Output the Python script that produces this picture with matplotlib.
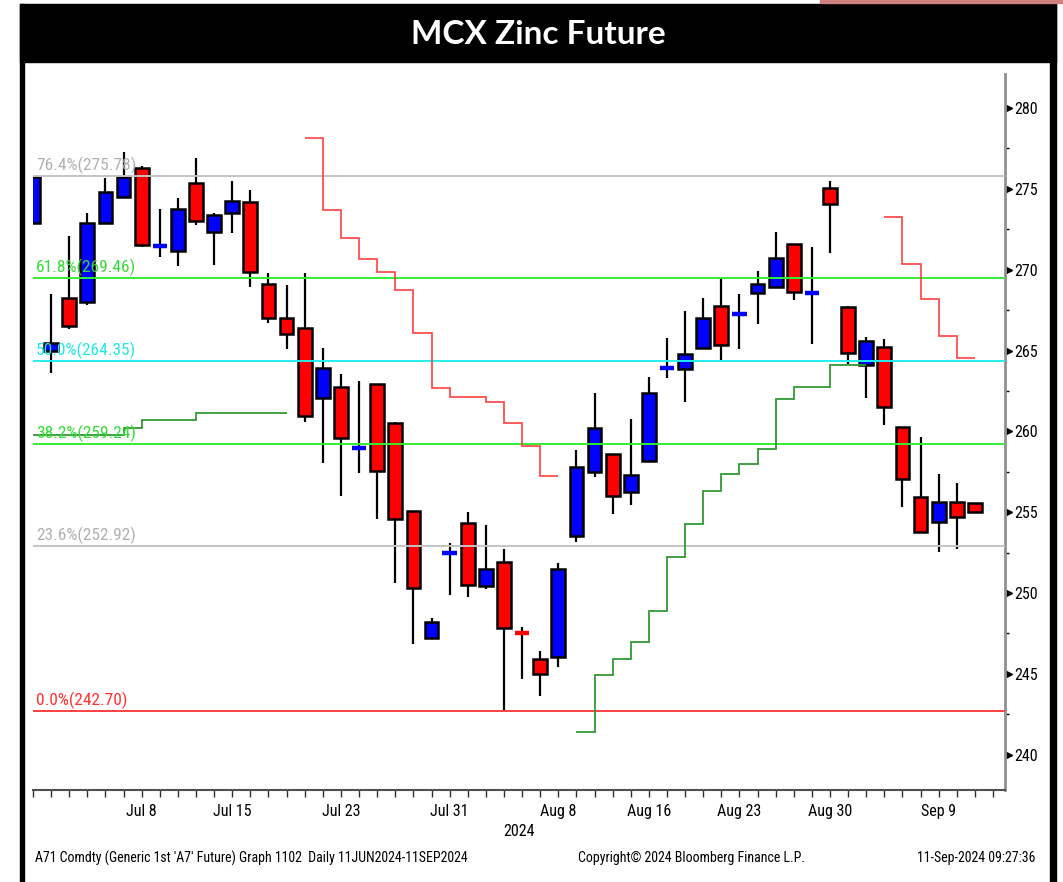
import numpy as np
import matplotlib
matplotlib.use('Agg')
import matplotlib.pyplot as plt
from matplotlib.patches import Rectangle
from matplotlib import font_manager
from matplotlib.ticker import MultipleLocator
from matplotlib.transforms import ScaledTranslation

# ---------------- data ----------------
opens  = [272.90, 265.00, 268.27, 268.02, 272.90, 274.52, 276.31, 271.40, 271.18, 275.38,
          272.35, 273.49, 274.20, 269.10, 266.99, 266.37, 262.05, 262.77, 258.88, 262.93,
          260.50, 255.08, 247.19, 252.45, 254.33, 250.46, 251.90, 247.55, 245.93, 246.03,
          253.53, 257.51, 258.58, 256.25, 258.17, 263.85, 263.84, 265.14, 267.78, 267.21,
          268.54, 268.95, 271.59, 268.53, 275.07, 267.72, 264.11, 265.24, 260.29, 255.93,
          254.39, 255.66, 255.55]
highs  = [275.75, 268.50, 272.08, 273.53, 275.69, 277.30, 276.40, 273.77, 274.46, 276.89,
          273.50, 275.49, 274.91, 269.82, 269.05, 269.82, 265.18, 263.55, 263.10, 262.95,
          260.60, 255.10, 248.44, 253.08, 255.04, 254.19, 252.75, 247.93, 246.44, 251.84,
          258.85, 262.36, 258.60, 260.75, 263.38, 265.76, 267.45, 268.23, 269.47, 268.48,
          269.92, 272.35, 271.60, 271.42, 275.50, 267.75, 265.82, 265.71, 260.30, 259.68,
          257.35, 256.79, 255.55]
lows   = [272.90, 263.60, 266.33, 267.84, 272.90, 274.52, 271.40, 270.77, 270.23, 272.76,
          270.30, 272.29, 268.91, 266.72, 265.10, 260.56, 258.03, 256.00, 257.45, 254.60,
          250.60, 246.83, 247.19, 249.86, 249.78, 250.27, 242.73, 244.67, 243.64, 245.45,
          253.18, 257.20, 254.89, 255.45, 258.10, 263.28, 261.80, 265.14, 264.42, 265.10,
          266.62, 268.95, 268.13, 265.40, 271.05, 264.17, 262.09, 260.40, 255.34, 253.70,
          252.52, 252.73, 255.04]
closes = [275.75, 265.45, 266.54, 272.89, 274.80, 275.75, 271.55, 271.55, 273.75, 273.00,
          273.36, 274.23, 269.88, 267.03, 266.02, 260.97, 263.90, 259.57, 259.00, 257.57,
          254.56, 250.30, 248.20, 252.55, 250.48, 251.49, 247.84, 247.45, 245.00, 251.49,
          257.82, 260.21, 256.00, 257.29, 262.40, 263.95, 264.77, 267.04, 265.35, 267.31,
          269.10, 270.70, 268.64, 268.63, 274.04, 264.87, 265.59, 261.53, 257.04, 253.80,
          255.66, 254.73, 255.04]

date_tick_idx = [6, 11, 17, 23, 29, 34, 39, 44, 50]
date_tick_lbl = ['Jul 8', 'Jul 15', 'Jul 23', 'Jul 31', 'Aug 8', 'Aug 16', 'Aug 23', 'Aug 30', 'Sep 9']

fib_pct    = ['76.4%', '61.8%', '50.0%', '38.2%', '23.6%', '0.0%']
fib_levels = [275.78, 269.46, 264.35, 259.24, 252.92, 242.70]

# stepped stop lines (edges are candle indices)
red1_edges = list(range(15, 30))
red1_vals  = [278.13, 273.67, 271.94, 270.64, 269.86, 268.73, 266.11, 262.67, 262.11,
              262.11, 261.82, 260.50, 259.10, 257.26]
red2_edges = list(range(47, 53))
red2_vals  = [273.28, 270.33, 268.17, 265.92, 264.56]
grn1_edges = [0, 5, 6, 9, 14]
grn1_vals  = [259.76, 260.23, 260.70, 261.16]
grn2_edges = list(range(30, 47))
grn2_vals  = [241.40, 244.94, 245.95, 247.00, 248.90, 252.20, 254.30, 256.30, 257.37,
              257.96, 258.90, 262.02, 262.77, 262.77, 264.12, 264.12]

# ---------------- style ----------------
W, H = 1063, 882
fib_line_col = ['#c4c4c4', '#33ee33', '#22eeee', '#33ee33', '#c4c4c4', '#ff4040']
fib_txt_col  = ['#b0b0b0', '#33dd33', '#22e6e6', '#33dd33', '#b0b0b0', '#ff3030']
up_col, dn_col = '#0000ff', '#ff0000'

avail = {f.name for f in font_manager.fontManager.ttflist}
narrow = 'DejaVu Sans'
for cand in ['Liberation Sans Narrow', 'DejaVu Sans Condensed', 'Roboto Condensed']:
    if cand in avail:
        narrow = cand
        break
title_font = 'Lato' if 'Lato' in avail else 'DejaVu Sans'


def fx(px):
    return px / W


def fy(py):
    return 1 - py / H


fig = plt.figure(figsize=(W / 100, H / 100), dpi=100)
fig.patch.set_facecolor('white')

# frame + title bar
fig.patches.append(Rectangle((fx(20), fy(62)), fx(1056) - fx(20), fy(4) - fy(62),
                             transform=fig.transFigure, color='black', zorder=0))
fig.patches.append(Rectangle((fx(20), 0), fx(24) - fx(20), fy(4),
                             transform=fig.transFigure, color='black', zorder=0))
fig.patches.append(Rectangle((fx(1050), 0), fx(1056) - fx(1050), fy(4),
                             transform=fig.transFigure, color='black', zorder=0))
fig.patches.append(Rectangle((fx(820), fy(3)), 1 - fx(820), fy(0) - fy(3),
                             transform=fig.transFigure, color='#d08080', zorder=0))
fig.text(fx(538), fy(35), 'MCX Zinc Future', color='white', fontsize=24,
         fontweight='bold', family=title_font, ha='center', va='center')

ax = fig.add_axes([fx(33), fy(790), fx(1005) - fx(33), fy(74) - fy(790)])
ax.set_xlim(0.11, 53.66)
ax.set_ylim(237.82, 282.1)

# candles
for i, (o, h, l, c) in enumerate(zip(opens, highs, lows, closes)):
    col = up_col if c >= o else dn_col
    ax.vlines(i, l, h, color='black', lw=1.6, zorder=2)
    if abs(c - o) < 0.25:
        ax.hlines((o + c) / 2, i - 0.4, i + 0.4, color=col, lw=3.2, zorder=3)
    else:
        ax.add_patch(Rectangle((i - 0.38, min(o, c)), 0.76, abs(c - o),
                               facecolor=col, edgecolor='black', lw=1.8, zorder=3))

# fibonacci retracement lines
for pct, lvl, lc, tc in zip(fib_pct, fib_levels, fib_line_col, fib_txt_col):
    ax.axhline(lvl, color=lc, lw=1.4, zorder=4)
    ax.annotate('%s(%.2f)' % (pct, lvl), xy=(0.003, lvl),
                xycoords=ax.get_yaxis_transform(), xytext=(0, 1.5),
                textcoords='offset points', va='bottom', ha='left',
                color=tc, fontsize=12.5, family=narrow, zorder=5)

# stepped stop lines
ax.stairs(red1_vals, red1_edges, baseline=None, color='#ff4040', lw=1.2, zorder=4)
ax.stairs(red2_vals, red2_edges, baseline=None, color='#ff4040', lw=1.2, zorder=4)
ax.stairs(grn1_vals, grn1_edges, baseline=None, color='#339933', lw=1.3, zorder=4)
ax.stairs(grn2_vals, grn2_edges, baseline=None, color='#339933', lw=1.3, zorder=4)

# axes styling
for s in ['left', 'top']:
    ax.spines[s].set_visible(False)
ax.spines['right'].set_color('#909090')
ax.spines['right'].set_linewidth(2)
ax.spines['bottom'].set_color('#505050')
ax.spines['bottom'].set_linewidth(1.5)

ax.yaxis.tick_right()
ax.set_yticks(np.arange(240, 281, 5))
ax.yaxis.set_minor_locator(MultipleLocator(2.5))
ax.tick_params(axis='y', which='major', length=0, pad=7, labelsize=11.5)
ax.tick_params(axis='y', which='minor', length=3, width=1, color='black')
for lbl in ax.get_yticklabels():
    lbl.set_family(narrow)

# triangle markers at the price ticks
tri = ax.get_yaxis_transform() + ScaledTranslation(4 / 100, 0, fig.dpi_scale_trans)
ax.plot([1.0] * len(ax.get_yticks()), ax.get_yticks(), marker='>', ls='none',
        color='black', ms=5, transform=tri, clip_on=False)

ax.set_xticks(date_tick_idx, date_tick_lbl)
ax.set_xticks(np.arange(0, 54), minor=True)
ax.tick_params(axis='x', which='both', length=5, width=1, color='#303030', pad=5, labelsize=11.5)
for lbl in ax.get_xticklabels():
    lbl.set_family(narrow)

fig.text(fx(519), fy(831), '2024', ha='center', va='center', fontsize=11.5, family=narrow)

fig.text(fx(35), fy(858), "A71 Comdty (Generic 1st 'A7' Future) Graph 1102  Daily 11JUN2024-11SEP2024",
         ha='left', va='center', fontsize=10, family=narrow)
fig.text(fx(692), fy(858), 'Copyright\u00a9 2024 Bloomberg Finance L.P.',
         ha='center', va='center', fontsize=10, family=narrow)
fig.text(fx(1035), fy(858), '11-Sep-2024 09:27:36',
         ha='right', va='center', fontsize=10, family=narrow)

fig.savefig('out.png', dpi=100)
